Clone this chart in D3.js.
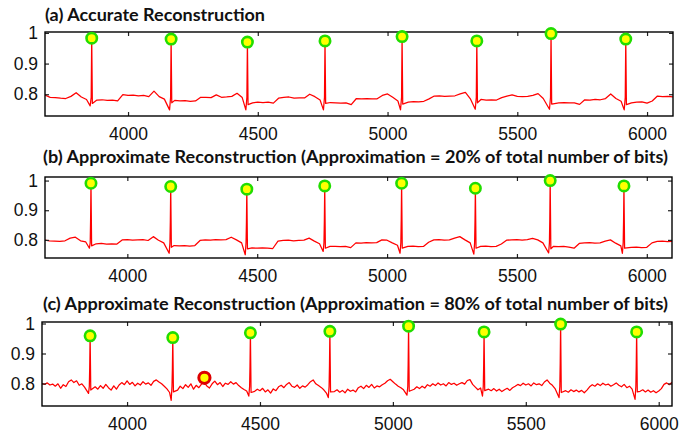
<!DOCTYPE html>
<html><head><meta charset="utf-8">
<script src="https://cdn.jsdelivr.net/npm/d3@7"></script>
<style>body{margin:0;background:#fff}svg{display:block}</style>
</head><body><svg id="chart" width="694" height="435"></svg>
<script>
// ---------- DATA ----------
const titles = [
  "(a) Accurate Reconstruction",
  "(b) Approximate Reconstruction (Approximation = 20% of total number of bits)",
  "(c) Approximate Reconstruction (Approximation = 80% of total number of bits)"
];
const xTicks = [4000, 4500, 5000, 5500, 6000];
const yTicks = [0.8, 0.9, 1];
const yTickLabels = ["0.8", "0.9", "1"];

// panel (a): baseline sampled from 3680 every 20 samples
const startA = 3680, stepA = 20;
const baselineA = [
 0.797,0.790,0.789,0.787,0.786,0.793,0.805,0.791,0.783,0.780,
 0.781,0.782,0.780,0.781,0.778,0.799,0.796,0.797,0.795,0.796,
 0.792,0.810,0.792,0.784,0.780,0.780,0.778,0.779,0.777,0.778,
 0.790,0.790,0.789,0.798,0.790,0.791,0.793,0.803,0.789,0.775,
 0.772,0.774,0.773,0.774,0.771,0.787,0.790,0.791,0.787,0.788,
 0.788,0.800,0.792,0.781,0.775,0.773,0.772,0.771,0.772,0.766,
 0.786,0.785,0.786,0.785,0.785,0.796,0.801,0.790,0.778,0.775,
 0.774,0.776,0.775,0.777,0.785,0.794,0.795,0.793,0.794,0.795,
 0.801,0.806,0.784,0.780,0.783,0.781,0.782,0.781,0.789,0.794,
 0.798,0.793,0.792,0.793,0.796,0.802,0.786,0.778,0.776,0.772,
 0.773,0.772,0.772,0.767,0.782,0.781,0.783,0.782,0.786,0.801,
 0.786,0.777,0.775,0.772,0.774,0.775,0.771,0.778,0.794,0.792,
 0.793,0.791
];
const peakXA = [3860, 4166, 4460, 4759, 5056, 5344, 5630, 5918];
const peakYA = [0.983, 0.980, 0.970, 0.974, 0.988, 0.974, 0.998, 0.980];
const qDipA  = [0.762, 0.749, 0.749, 0.749, 0.749, 0.751, 0.751, 0.749];
const sDipA  = [0.770, 0.772, 0.766, 0.770, 0.768, 0.772, 0.768, 0.766];

// panel (b)
const startB = 3680, stepB = 20;
const baselineB = [
 0.800,0.797,0.796,0.795,0.797,0.806,0.809,0.797,0.793,0.790,
 0.787,0.788,0.786,0.787,0.786,0.800,0.801,0.799,0.800,0.801,
 0.798,0.811,0.799,0.790,0.785,0.781,0.780,0.781,0.779,0.781,
 0.798,0.800,0.799,0.801,0.800,0.801,0.809,0.800,0.790,0.780,
 0.773,0.772,0.773,0.772,0.771,0.796,0.798,0.799,0.797,0.798,
 0.799,0.806,0.796,0.787,0.780,0.778,0.778,0.777,0.778,0.774,
 0.790,0.789,0.791,0.790,0.791,0.800,0.799,0.790,0.782,0.778,
 0.778,0.779,0.777,0.778,0.792,0.800,0.801,0.799,0.800,0.806,
 0.811,0.800,0.790,0.780,0.778,0.779,0.777,0.778,0.786,0.799,
 0.800,0.801,0.799,0.801,0.805,0.800,0.790,0.780,0.778,0.777,
 0.778,0.776,0.772,0.788,0.790,0.791,0.789,0.790,0.796,0.800,
 0.789,0.780,0.775,0.775,0.776,0.774,0.775,0.790,0.795,0.796,
 0.794,0.795
];
const peakXB = [3860, 4167, 4460, 4760, 5056, 5340, 5628, 5912];
const peakYB = [0.991, 0.980, 0.971, 0.982, 0.991, 0.974, 1.000, 0.982];
const qDipB  = [0.772, 0.755, 0.750, 0.761, 0.755, 0.752, 0.756, 0.755];
const rampB  = [0.865, 0.860, 0.858, 0.862, 0.866, 0.860, 0.868, 0.862];
const sDipB  = [0.780, 0.775, 0.770, 0.772, 0.772, 0.772, 0.770, 0.772];

// panel (c): noisy baseline sampled from 3680 every 10 samples
const startC = 3680, stepC = 10;
const baselineC = [
 0.800,0.797,0.802,0.795,0.798,0.791,0.799,0.784,0.796,0.790,
 0.806,0.812,0.803,0.809,0.794,0.799,0.788,0.792,0.790,0.776,
 0.789,0.781,0.793,0.784,0.797,0.786,0.778,0.792,0.781,0.795,
 0.803,0.796,0.809,0.797,0.804,0.792,0.801,0.795,0.806,0.798,
 0.802,0.794,0.807,0.812,0.805,0.799,0.791,0.782,0.770,0.775,
 0.778,0.778,0.791,0.783,0.796,0.787,0.799,0.781,0.794,0.786,
 0.798,0.804,0.792,0.785,0.799,0.808,0.796,0.803,0.790,0.801,
 0.797,0.806,0.798,0.803,0.793,0.786,0.780,0.775,0.775,0.775,
 0.774,0.781,0.776,0.784,0.772,0.779,0.768,0.782,0.776,0.789,
 0.794,0.786,0.797,0.803,0.791,0.787,0.795,0.784,0.792,0.788,
 0.796,0.806,0.812,0.799,0.793,0.787,0.779,0.768,0.775,0.775,
 0.773,0.779,0.771,0.777,0.769,0.781,0.774,0.778,0.772,0.786,
 0.791,0.783,0.794,0.787,0.797,0.785,0.792,0.789,0.796,0.801,
 0.809,0.814,0.806,0.798,0.791,0.786,0.779,0.775,0.775,0.775,
 0.781,0.789,0.783,0.791,0.785,0.796,0.791,0.799,0.793,0.802,
 0.795,0.799,0.792,0.803,0.797,0.801,0.794,0.799,0.803,0.798,
 0.810,0.813,0.797,0.788,0.779,0.785,0.780,0.780,0.781,0.776,
 0.783,0.775,0.781,0.773,0.779,0.784,0.777,0.786,0.791,0.797,
 0.793,0.801,0.795,0.799,0.792,0.802,0.796,0.799,0.793,0.805,
 0.812,0.801,0.794,0.783,0.778,0.778,0.778,0.776,0.771,0.779,
 0.773,0.778,0.772,0.777,0.769,0.778,0.789,0.796,0.791,0.799,
 0.793,0.801,0.795,0.798,0.791,0.796,0.802,0.794,0.789,0.797,
 0.786,0.791,0.781,0.778,0.778,0.774,0.779,0.772,0.778,0.771,
 0.776,0.769,0.775,0.783,0.797,0.802,0.796,0.804
];
const peakXC = [3861, 4172, 4464, 4763, 5059, 5343, 5631, 5917];
const peakYC = [0.959, 0.953, 0.969, 0.974, 0.991, 0.972, 0.998, 0.972];
const qDipC  = [0.767, 0.744, 0.758, 0.753, 0.761, 0.758, 0.753, 0.747];
const rampC  = [0.855, 0.850, 0.858, 0.860, 0.866, 0.858, 0.868, 0.860];
const sDipC  = [0.778, 0.772, 0.770, 0.772, 0.774, 0.776, 0.770, 0.772];
// falsely detected peak in (c)
const falseX = [4291];
const falseY = [0.819];

// ---------- LAYOUT ----------
const panels = [
  {title: titles[0], tx: 45, ty: 20.5, tlen: 220,
   left: 45, right: 673, top: 32, bottom: 116, xd: [3680, 6100], yd: [0.729, 1.003],
   start: startA, step: stepA, base: baselineA, px: peakXA, py: peakYA, q: qDipA, ramp: null, s: sDipA},
  {title: titles[1], tx: 43, ty: 163.3, tlen: 625,
   left: 45, right: 672, top: 177, bottom: 258, xd: [3683, 6097], yd: [0.739, 1.012],
   start: startB, step: stepB, base: baselineB, px: peakXB, py: peakYB, q: qDipB, ramp: rampB, s: sDipB},
  {title: titles[2], tx: 43, ty: 309.5, tlen: 625,
   left: 42, right: 672, top: 322, bottom: 406, xd: [3680, 6050], yd: [0.725, 1.005],
   start: startC, step: stepC, base: baselineC, px: peakXC, py: peakYC, q: qDipC, ramp: rampC, s: sDipC,
   fx: falseX, fy: falseY}
];

const svg = d3.select("#chart");
const defs = svg.append("defs");

function buildSeries(p) {
  let pts = p.base.map((v, i) => [p.start + i * p.step, v]);
  pts = pts.filter(d => !p.px.some(x => Math.abs(d[0] - x) < 12));
  p.px.forEach((x, i) => {
    pts.push([x - 6, p.q[i]]);
    if (p.ramp) { pts.push([x - 3, 0.79]); pts.push([x - 1.5, p.ramp[i]]); }
    else pts.push([x - 2, 0.79]);
    pts.push([x, p.py[i]]);
    pts.push([x + 2.5, p.s[i]]);
  });
  pts.sort((a, b) => a[0] - b[0]);
  return pts;
}

panels.forEach((p, k) => {
  const x = d3.scaleLinear().domain(p.xd).range([p.left, p.right]);
  const y = d3.scaleLinear().domain(p.yd).range([p.bottom, p.top]);
  const g = svg.append("g");

  // title
  g.append("text")
    .attr("x", p.tx).attr("y", p.ty)
    .attr("textLength", p.tlen).attr("lengthAdjust", "spacingAndGlyphs")
    .style("font-family", "Lato, 'Open Sans', sans-serif")
    .style("font-weight", "bold").style("font-size", "16.5px")
    .attr("fill", "#111")
    .text(p.title);

  // clip
  defs.append("clipPath").attr("id", "clip" + k)
    .append("rect").attr("x", p.left).attr("y", p.top - 12)
    .attr("width", p.right - p.left).attr("height", p.bottom - p.top + 12);

  // line
  const pts = buildSeries(p);
  g.append("path")
    .datum(pts)
    .attr("clip-path", "url(#clip" + k + ")")
    .attr("fill", "none").attr("stroke", "#ff0000")
    .attr("stroke-width", 1.25).attr("stroke-linejoin", "round")
    .attr("d", d3.line().x(d => x(d[0])).y(d => y(d[1])));

  // axes
  const fontAx = "'Liberation Sans', Arial, sans-serif";
  const xb = g.append("g").attr("transform", `translate(0,${p.bottom})`)
    .call(d3.axisBottom(x).tickValues(xTicks).tickSizeInner(-4).tickSizeOuter(0).tickPadding(12).tickFormat(d3.format("d")));
  const xt = g.append("g").attr("transform", `translate(0,${p.top})`)
    .call(d3.axisTop(x).tickValues(xTicks).tickSizeInner(-4).tickSizeOuter(0).tickFormat(""));
  const yl = g.append("g").attr("transform", `translate(${p.left},0)`)
    .call(d3.axisLeft(y).tickValues(yTicks).tickSizeInner(-4).tickSizeOuter(0).tickPadding(7)
      .tickFormat((d, i) => yTickLabels[i]));
  const yr = g.append("g").attr("transform", `translate(${p.right},0)`)
    .call(d3.axisRight(y).tickValues(yTicks).tickSizeInner(-4).tickSizeOuter(0).tickFormat(""));
  [xb, xt, yl, yr].forEach(a => {
    a.select(".domain").remove();
    a.selectAll(".tick line").attr("stroke", "#222").attr("stroke-width", 1.2);
    a.selectAll("text").style("font-family", fontAx).style("font-size", "17.5px").attr("fill", "#111");
  });

  // frame
  g.append("rect").attr("x", p.left).attr("y", p.top)
    .attr("width", p.right - p.left).attr("height", p.bottom - p.top)
    .attr("fill", "none").attr("stroke", "#000").attr("stroke-width", 1.4);

  // peak markers
  g.selectAll("circle.pk").data(p.px.map((v, i) => [v, p.py[i]])).enter()
    .append("circle").attr("class", "pk")
    .attr("cx", d => x(d[0])).attr("cy", d => y(d[1])).attr("r", 5.2)
    .attr("fill", "#ffff00").attr("stroke", "#22dd00").attr("stroke-width", 2.6);

  if (p.fx) {
    g.selectAll("circle.fp").data(p.fx.map((v, i) => [v, p.fy[i]])).enter()
      .append("circle").attr("class", "fp")
      .attr("cx", d => x(d[0])).attr("cy", d => y(d[1])).attr("r", 5.6)
      .attr("fill", "#ffff00").attr("stroke", "#dd0000").attr("stroke-width", 3);
  }
});
</script>
</body></html>
